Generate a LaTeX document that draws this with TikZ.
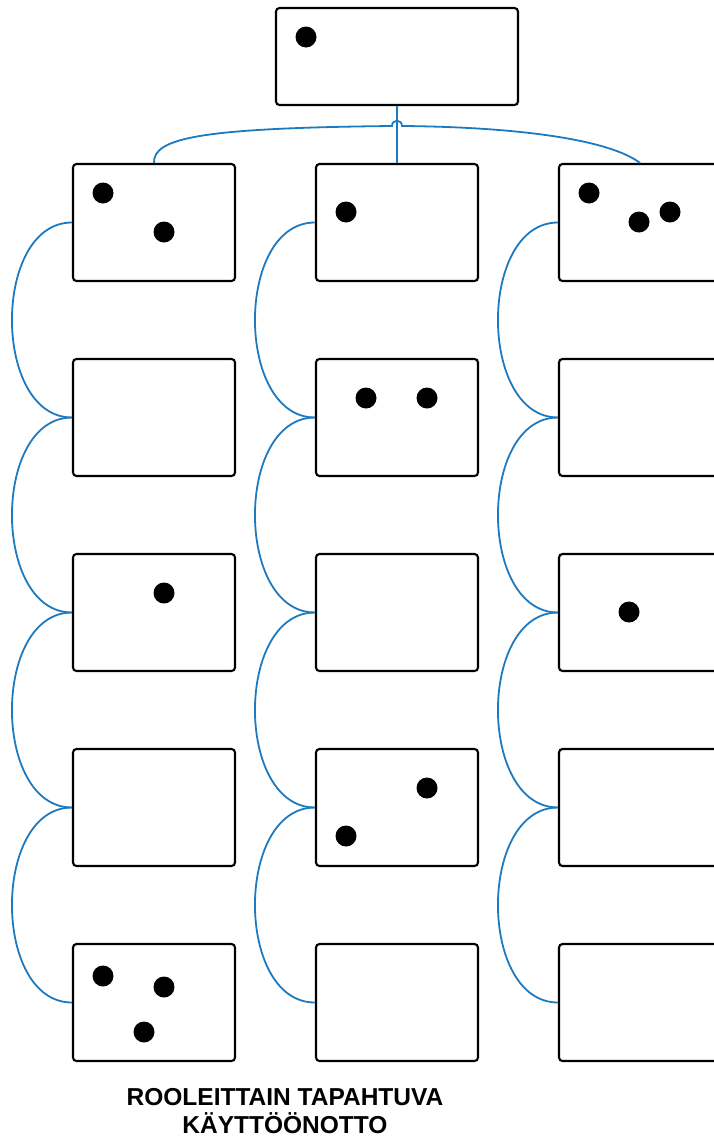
\documentclass[tikz,border=0pt]{standalone}
\usepackage{fontspec}
\setmainfont{Liberation Sans}
\usepackage{tikz}
\usetikzlibrary{positioning}
\usepackage{xcolor}
\definecolor{linkblue}{RGB}{30,122,190}

\begin{document}
\begin{tikzpicture}[x=1pt, y=-1pt,
  card/.style={draw, line width=2.1pt, rounded corners=3.5pt, minimum width=162pt, minimum height=117pt, inner sep=0pt},
  link/.style={linkblue, line width=1.8pt},
  dot/.style={fill=black, circle, minimum size=21pt, inner sep=0pt}]
  \useasboundingbox (0,0) rectangle (714,1138);
  \clip (0,0) rectangle (714,1138);
  % top card
  \node[card, minimum width=242pt, minimum height=97pt] (top) at (397,56.5) {};
  % three columns of five cards
  \foreach \c/\x in {1/154,2/397,3/640}
    \foreach \r/\y in {1/222.5,2/417.5,3/612.5,4/807.5,5/1002.5}
      \node[card] (b-\c-\r) at (\x,\y) {};
  % loops on the left side of each column
  \foreach \c in {1,2,3}{
    \foreach \r/\s in {1/2,2/3,3/4,4/5}{
      \draw[link] (b-\c-\r.west) .. controls +(-80,0) and +(-80,0) .. (b-\c-\s.west);
    }
  }
  % links from the top card
  \coordinate (hopL) at (392,126);
  \coordinate (hopR) at (402,126);
  \draw[link] (top.south) -- (b-2-1.north);
  \draw[link] (b-1-1.north) .. controls (153,138) and (200,128) .. (hopL)
    .. controls +(0,-7) and +(0,-7) .. (hopR)
    .. controls (520,127) and (610,140) .. (b-3-1.north);
  % dots
  \node[dot] (d-top) at (306,37) {};
  \node[dot] (d-11a) at (103,193) {};
  \node[dot] (d-11b) at (164,232) {};
  \node[dot] (d-21) at (346,212) {};
  \node[dot] (d-31a) at (589,193) {};
  \node[dot] (d-31b) at (639,222) {};
  \node[dot] (d-31c) at (670,212) {};
  \node[dot] (d-22a) at (366,398) {};
  \node[dot] (d-22b) at (427,398) {};
  \node[dot] (d-13) at (164,593) {};
  \node[dot] (d-33) at (629,612) {};
  \node[dot] (d-24a) at (427,788) {};
  \node[dot] (d-24b) at (346,836) {};
  \node[dot] (d-15a) at (103,976) {};
  \node[dot] (d-15b) at (164,987) {};
  \node[dot] (d-15c) at (144,1032) {};
  % caption
  \node[align=center, font=\bfseries\fontsize{24.5}{28}\selectfont] (caption) at (285,1111)
    {ROOLEITTAIN TAPAHTUVA\\KÄYTTÖÖNOTTO};
\end{tikzpicture}
\end{document}
